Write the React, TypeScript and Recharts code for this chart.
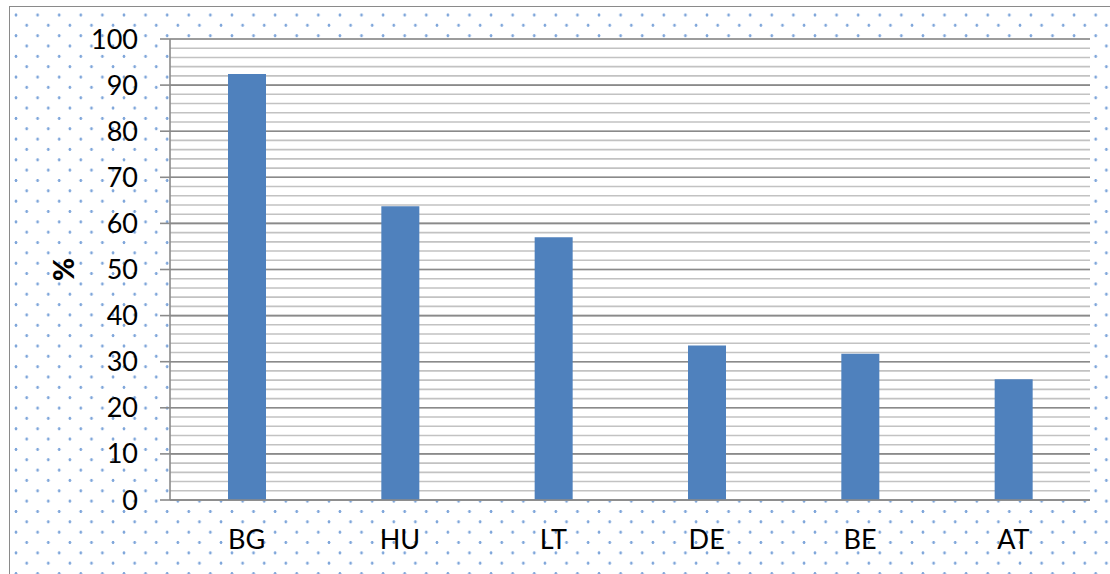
import React from 'react';
import { BarChart, Bar, XAxis, YAxis, CartesianGrid } from 'recharts';

const categories = ['BG', 'HU', 'LT', 'DE', 'BE', 'AT'];
const values = [92.4, 63.7, 57.0, 33.5, 31.7, 26.2];
const yTicks = [0, 10, 20, 30, 40, 50, 60, 70, 80, 90, 100];
const minorTicks = [0, 2, 4, 6, 8, 10, 12, 14, 16, 18, 20, 22, 24, 26, 28, 30, 32, 34, 36, 38, 40, 42, 44, 46, 48, 50, 52, 54, 56, 58, 60, 62, 64, 66, 68, 70, 72, 74, 76, 78, 80, 82, 84, 86, 88, 90, 92, 94, 96, 98, 100];

const data = categories.map((c, i) => ({ name: c, value: values[i] }));

const FONT = 'Lato, "Open Sans", sans-serif';

export default function App() {
  const dot = 'radial-gradient(circle, #7fa6da 0px, #7fa6da 1.1px, rgba(255,255,255,0) 1.8px)';
  return (
    <div
      style={{
        position: 'absolute',
        left: 9,
        top: 6,
        width: 1110,
        height: 574,
        borderTop: '1px solid #8a8a8a',
        borderLeft: '1px solid #8a8a8a',
        boxSizing: 'border-box',
        backgroundColor: '#ffffff',
        backgroundImage: `${dot}, ${dot}`,
        backgroundSize: '21.6px 20.7px, 21.6px 20.7px',
        backgroundPosition: '-4.8px -2.35px, 5.9px 7.95px',
        fontFamily: FONT,
      }}
    >
      <BarChart
        width={1109}
        height={573}
        data={data}
        margin={{ top: 32, right: 29, bottom: 0, left: 0 }}
        barSize={38}
      >
        <CartesianGrid
          vertical={false}
          stroke="#c2c2c2"
          strokeWidth={1.6}
          fill="#ffffff"
          fillOpacity={1}
          horizontalValues={minorTicks}
        />
        <CartesianGrid
          vertical={false}
          stroke="#8a8a8a"
          strokeWidth={1.6}
          horizontalValues={yTicks}
        />
        <XAxis
          dataKey="name"
          axisLine={{ stroke: '#8a8a8a', strokeWidth: 1.6 }}
          tickLine={false}
          tickSize={0}
          tickMargin={30}
          height={80}
          tick={{ fill: '#000000', fontSize: 27, fontFamily: FONT }}
          interval={0}
        />
        <YAxis
          domain={[0, 100]}
          ticks={yTicks}
          interval={0}
          width={160}
          axisLine={{ stroke: '#8a8a8a', strokeWidth: 1.6 }}
          tickLine={{ stroke: '#8a8a8a', strokeWidth: 1.6 }}
          tickSize={10}
          tickMargin={22}
          tick={{ fill: '#000000', fontSize: 27, fontFamily: FONT }}
          label={{
            value: '%',
            angle: -90,
            position: 'center',
            dx: -26,
            style: { fontSize: 28, fontWeight: 900, fill: '#000000', fontFamily: FONT },
          }}
        />
        <Bar dataKey="value" fill="#4f81bd" isAnimationActive={false} />
      </BarChart>
    </div>
  );
}
